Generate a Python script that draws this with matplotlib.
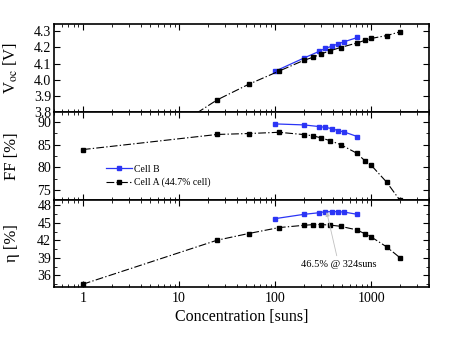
"""
Cell A vs Cell B performance versus concentration (Voc, FF, efficiency).
"""

import matplotlib
matplotlib.use("Agg")
import matplotlib.pyplot as plt
from matplotlib.ticker import FixedLocator, MultipleLocator, LogLocator, NullFormatter

plt.rcParams['font.family'] = ['Liberation Serif', 'DejaVu Serif']
plt.rcParams['mathtext.fontset'] = 'stix'

# Cell A (44.7% cell)
conc_a = [1, 25, 53, 110, 200, 250, 300, 370, 480, 710, 870, 1000, 1450, 2000]
voc_a = [3.34, 3.875, 3.971, 4.053, 4.12, 4.139, 4.159, 4.178, 4.199, 4.227, 4.244, 4.255, 4.273, 4.296]
ff_a = [83.9, 87.2, 87.4, 87.67, 87.17, 86.89, 86.46, 85.87, 85.0, 83.1, 81.37, 80.5, 76.8, 72.8]
eta_a = [34.5, 42.04, 43.18, 44.2, 44.59, 44.71, 44.71, 44.64, 44.42, 43.8, 43.11, 42.6, 40.9, 39.02]

# Cell B
conc_b = [100, 200, 290, 330, 390, 450, 520, 720]
voc_b = [4.052, 4.134, 4.176, 4.193, 4.207, 4.221, 4.234, 4.261]
ff_b = [89.5, 89.28, 88.91, 88.76, 88.48, 88.04, 87.76, 86.74]
eta_b = [45.73, 46.47, 46.75, 46.92, 46.92, 46.92, 46.86, 46.47]

x_ticks = [1, 10, 100, 1000]
x_tick_labels = ["1", "10", "100", "1000"]

fig, axes = plt.subplots(3, 1, sharex=True, figsize=(4.53, 3.39), dpi=100)
fig.subplots_adjust(left=0.119, right=0.947, bottom=0.153, top=0.928, hspace=0)

blue = '#2b35f5'
dashdot = (0, (7, 2, 1.2, 2))

panels = [
    (voc_a, voc_b, "V$_{\\rm oc}$ [V]", (3.8, 4.342), [3.8, 3.9, 4.0, 4.1, 4.2, 4.3], None),
    (ff_a, ff_b, "FF [%]", (73.0, 92.1), [75, 80, 85, 90], 2.5),
    (eta_a, eta_b, "η [%]", (34.0, 49.0), [36, 39, 42, 45, 48], 1.5),
]

for ax, (ya, yb, label, ylim, yticks, yminor) in zip(axes, panels):
    ax.plot(conc_b, yb, '-s', color=blue, lw=0.9, ms=2.2, label="Cell B")
    ax.plot(conc_a, ya, 's', color='black', ls=dashdot, lw=0.8, ms=2.2,
            label="Cell A (44.7% cell)")
    ax.set_xscale('log')
    ax.set_xlim(0.5, 4000)
    ax.set_ylim(*ylim)
    ax.yaxis.set_major_locator(FixedLocator(yticks))
    if yminor:
        ax.yaxis.set_minor_locator(MultipleLocator(yminor))
    ax.set_ylabel(label, fontsize=12)
    ax.yaxis.set_label_coords(-0.09, 0.5)
    ax.xaxis.set_minor_locator(LogLocator(base=10, subs=range(2, 10), numticks=20))
    ax.xaxis.set_minor_formatter(NullFormatter())
    ax.tick_params(which='both', direction='in', top=True, right=True, labelsize=10)
    ax.tick_params(which='major', length=4, width=0.8)
    ax.tick_params(which='minor', length=2, width=0.6)
    ax.tick_params(axis='y', pad=2)
    for spine in ax.spines.values():
        spine.set_linewidth(1.2)

axes[2].set_xticks(x_ticks)
axes[2].set_xticklabels(x_tick_labels)
axes[2].set_xlabel("Concentration [suns]", fontsize=11.5, labelpad=3)

axes[1].legend(loc='center left', bbox_to_anchor=(0.14, 0.27), frameon=False,
               fontsize=7, handlelength=2.6, handletextpad=0.2, markerscale=1.3,
               borderaxespad=0, borderpad=0, labelspacing=0.4)

axes[2].annotate("46.5% @ 324suns", xy=(345, 46.85), xytext=(460, 37.9),
                 ha='center', va='center', fontsize=7.5,
                 arrowprops=dict(arrowstyle='-|>', color='#c0c0c0', lw=0.6,
                                 mutation_scale=6, shrinkA=1, shrinkB=0))

plt.savefig("out.png")
